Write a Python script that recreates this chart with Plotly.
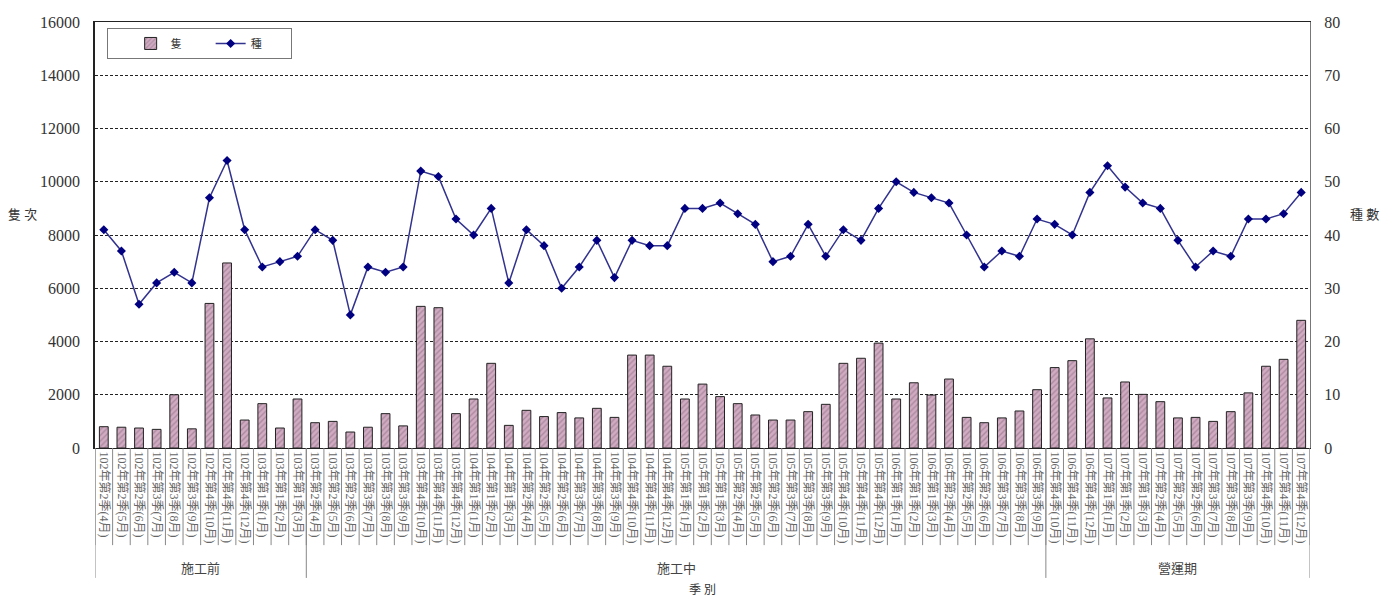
import plotly.graph_objects as go

months = ["102年第2季(4月)", "102年第2季(5月)", "102年第2季(6月)", "102年第3季(7月)", "102年第3季(8月)",
          "102年第3季(9月)", "102年第4季(10月)", "102年第4季(11月)", "102年第4季(12月)",
          "103年第1季(1月)", "103年第1季(2月)", "103年第1季(3月)", "103年第2季(4月)", "103年第2季(5月)",
          "103年第2季(6月)", "103年第3季(7月)", "103年第3季(8月)", "103年第3季(9月)", "103年第4季(10月)",
          "103年第4季(11月)", "103年第4季(12月)",
          "104年第1季(1月)", "104年第1季(2月)", "104年第1季(3月)", "104年第2季(4月)", "104年第2季(5月)",
          "104年第2季(6月)", "104年第3季(7月)", "104年第3季(8月)", "104年第3季(9月)", "104年第4季(10月)",
          "104年第4季(11月)", "104年第4季(12月)",
          "105年第1季(1月)", "105年第1季(2月)", "105年第1季(3月)", "105年第2季(4月)", "105年第2季(5月)",
          "105年第2季(6月)", "105年第3季(7月)", "105年第3季(8月)", "105年第3季(9月)", "105年第4季(10月)",
          "105年第4季(11月)", "105年第4季(12月)",
          "106年第1季(1月)", "106年第1季(2月)", "106年第1季(3月)", "106年第2季(4月)", "106年第2季(5月)",
          "106年第2季(6月)", "106年第3季(7月)", "106年第3季(8月)", "106年第3季(9月)", "106年第4季(10月)",
          "106年第4季(11月)", "106年第4季(12月)",
          "107年第1季(1月)", "107年第1季(2月)", "107年第1季(3月)", "107年第2季(4月)", "107年第2季(5月)",
          "107年第2季(6月)", "107年第3季(7月)", "107年第3季(8月)", "107年第3季(9月)", "107年第4季(10月)",
          "107年第4季(11月)", "107年第4季(12月)"]

individuals = [800, 780, 750, 700, 2000, 720, 5430, 6950, 1050, 1665, 750, 1840,
               950, 1000, 600, 780, 1290, 830, 5320, 5270, 1290,
               1840, 3180, 850, 1415, 1180, 1330, 1130, 1490, 1150, 3490, 3490, 3070,
               1840, 2400, 1930, 1665, 1240, 1050, 1050, 1365, 1640, 3180, 3370, 3940,
               1840, 2450, 1990, 2590, 1150, 950, 1130, 1390, 2190,
               3020, 3280, 4100,
               1880, 2480, 2015, 1740, 1130, 1150, 1000, 1365, 2070, 3070, 3330, 4795]

species = [41, 37, 27, 31, 33, 31, 47, 54, 41, 34, 35, 36,
           41, 39, 25, 34, 33, 34, 52, 51, 43,
           40, 45, 31, 41, 38, 30, 34, 39, 32, 39, 38, 38,
           45, 45, 46, 44, 42, 35, 36, 42, 36, 41, 39, 45,
           50, 48, 47, 46, 40, 34, 37, 36, 43,
           42, 40, 48,
           53, 49, 46, 45, 39, 34, 37, 36, 43, 43, 44, 48]

groups = ["施工前", "施工中", "營運期"]
group_sizes = [12, 42, 15]

serif = "Liberation Serif, Times New Roman, Noto Sans CJK TC, serif"
label_font = "Liberation Serif, Noto Sans CJK TC, serif"

fig = go.Figure()
fig.add_trace(go.Bar(
    x=months, y=individuals, name="隻", width=0.5,
    marker=dict(color="#c9a2ba", line=dict(color="#222222", width=1),
                pattern=dict(shape="/", fgcolor="#8a6a80", bgcolor="#d0abc2", size=4, solidity=0.35)),
    yaxis="y"))
fig.add_trace(go.Scatter(
    x=months, y=species, name="種", mode="lines+markers",
    line=dict(color="#32328f", width=1.5),
    marker=dict(symbol="diamond", size=7, color="#000080"),
    yaxis="y2"))

shapes = []
n = len(months)
for i in range(n + 1):
    shapes.append(dict(type="line", xref="x", yref="paper", x0=i - 0.5, x1=i - 0.5,
                       y0=0, y1=-0.228, line=dict(color="#888888", width=1)))
annotations = []
bounds = [0]
for g, s in zip(groups, group_sizes):
    bounds.append(bounds[-1] + s)
for b in bounds:
    shapes.append(dict(type="line", xref="x", yref="paper", x0=b - 0.5, x1=b - 0.5,
                       y0=0, y1=-0.305, line=dict(color="#888888", width=1)))
for k, g in enumerate(groups):
    center = (bounds[k] + bounds[k + 1] - 1) / 2
    annotations.append(dict(text=g, xref="x", yref="paper", x=center, y=-0.282,
                            xanchor="center", yanchor="middle", showarrow=False,
                            font=dict(family=label_font, size=13, color="#444444")))

annotations += [
    dict(text="隻 次", xref="paper", yref="paper", x=-0.0593, y=0.547, xanchor="center",
         yanchor="middle", showarrow=False,
         font=dict(family=label_font, size=13, color="#333333")),
    dict(text="種 數", xref="paper", yref="paper", x=1.0445, y=0.547, xanchor="center",
         yanchor="middle", showarrow=False,
         font=dict(family=label_font, size=13, color="#333333")),
    dict(text="季 別", xref="paper", yref="paper", x=0.5, y=-0.333, xanchor="center",
         yanchor="middle", showarrow=False,
         font=dict(family=label_font, size=12, color="#333333")),
]

fig.update_layout(
    width=1381, height=598,
    margin=dict(l=95, r=71, t=22, b=150),
    paper_bgcolor="white", plot_bgcolor="white",
    bargap=0.5,
    showlegend=True,
    legend=dict(orientation="h", x=0.01, y=0.986, xanchor="left", yanchor="top",
                bordercolor="#777777", borderwidth=1, bgcolor="white",
                font=dict(family=label_font, size=11, color="#333333"),
                entrywidth=35, title=dict(text="     ", font=dict(size=10)),
                tracegroupgap=0),
    xaxis=dict(type="category", tickangle=90, showgrid=False, ticks="",
               tickfont=dict(family=label_font, size=12, color="#666666"),
               showline=True, linecolor="#222222", linewidth=1, mirror=True,
               range=[-0.5, n - 0.5]),
    yaxis=dict(range=[0, 16000], dtick=2000, tickformat="d", showgrid=True, gridcolor="#222222",
               griddash="3px,2px", gridwidth=1, showline=True, linecolor="#222222",
               linewidth=1.5, ticks="", ticklabelstandoff=10,
               tickfont=dict(family=serif, size=16, color="#333333"), zeroline=False),
    yaxis2=dict(range=[0, 80], dtick=10, overlaying="y", side="right", showgrid=False,
                showline=True, linecolor="#777777", linewidth=1, ticks="", ticklabelstandoff=10,
                tickfont=dict(family=serif, size=16, color="#333333"), zeroline=False),
    shapes=shapes,
    annotations=annotations,
)

fig.write_html("out.html", config={"displayModeBar": False},
               post_script="document.body.style.margin='0px';document.body.style.overflow='hidden';")
